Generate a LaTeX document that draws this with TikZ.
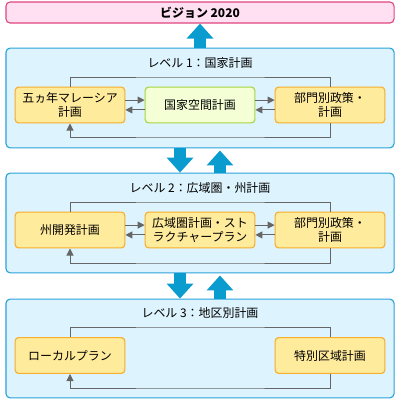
\documentclass[tikz,border=0pt]{standalone}
\usepackage{fontspec}
\usepackage{xcolor}
\usetikzlibrary{positioning,arrows.meta}
\setmainfont{Noto Sans CJK JP}
\definecolor{VisionPink}{HTML}{FFE0F2}
\definecolor{VisionEdge}{HTML}{E0457E}
\definecolor{LevelBlue}{HTML}{DDF3FD}
\definecolor{LevelEdge}{HTML}{2AA3D9}
\definecolor{PlanYellow}{HTML}{FFEB9C}
\definecolor{PlanEdge}{HTML}{F7AE2E}
\definecolor{SpaceGreen}{HTML}{F5FFD6}
\definecolor{SpaceEdge}{HTML}{A6D63E}
\definecolor{BigArrow}{HTML}{0A9BCF}
\definecolor{LinkGrey}{HTML}{666666}

\tikzset{
  levelbox/.style={rounded corners=3pt, fill=LevelBlue, draw=LevelEdge,
    line width=0.8pt, minimum width=276pt, inner sep=0pt},
  planbox/.style={rounded corners=2.5pt, fill=PlanYellow, draw=PlanEdge,
    line width=0.8pt, minimum width=78pt, minimum height=25.5pt,
    inner sep=1pt, align=center, font=\fontsize{8.5}{10}\selectfont},
  leveltitle/.style={font=\fontsize{8.5}{10}\selectfont},
  link/.style={draw=LinkGrey, line width=0.7pt},
  linkarrow/.style={link, -{Triangle[width=5pt,length=5pt]}},
  bigarrow/.style={draw=BigArrow, line width=8.5pt,
    -{Triangle[width=18.4pt,length=10.6pt]}}
}

\begin{document}
\begin{tikzpicture}[x=0.025cm, y=-0.025cm]
  \useasboundingbox (0,0) rectangle (400,400);

  % vision
  \node[
    rounded corners=3pt,
    fill=VisionPink,
    draw=VisionEdge,
    line width=0.8pt,
    minimum width=276pt,
    minimum height=15pt,
    inner sep=0pt,
    font=\fontsize{8.5}{10}\selectfont\bfseries
  ] (vision) at (200,12.5) {ビジョン 2020};

  % level 1
  \node[levelbox, minimum height=70.9pt] (lvA) at (200,98) {};
  \node[leveltitle] (lvAtitle) at (200,63) {レベル 1：国家計画};
  \node[planbox] (fiveyear) at (70,105) {五ヵ年マレーシア\\計画};
  \node[planbox, fill=SpaceGreen, draw=SpaceEdge] (spatial) at (200,105) {国家空間計画};
  \node[planbox] (sectorA) at (330,105) {部門別政策・\\計画};

  % level 2
  \node[levelbox, minimum height=70.9pt] (lvB) at (200,223) {};
  \node[leveltitle] (lvBtitle) at (200,188) {レベル 2：広域圏・州計画};
  \node[planbox] (statedev) at (70,230) {州開発計画};
  \node[planbox] (regional) at (200,230) {広域圏計画・スト\\ラクチャープラン};
  \node[planbox] (sectorB) at (330,230) {部門別政策・\\計画};

  % level 3
  \node[levelbox, minimum height=70.2pt] (lvC) at (200,348.5) {};
  \node[leveltitle] (lvCtitle) at (200,313) {レベル 3：地区別計画};
  \node[planbox] (localplan) at (70,355.5) {ローカルプラン};
  \node[planbox] (special) at (330,355.5) {特別区域計画};

  % links inside the levels
  \foreach \l/\m/\r in {fiveyear/spatial/sectorA, statedev/regional/sectorB}{
    \draw[linkarrow] ([yshift=3.5pt]\l.east) -- ([yshift=3.5pt]\m.west);
    \draw[linkarrow] ([yshift=3.5pt]\m.east) -- ([yshift=3.5pt]\r.west);
    \draw[linkarrow] ([yshift=-3.5pt]\r.west) -- ([yshift=-3.5pt]\m.east);
    \draw[linkarrow] ([yshift=-3.5pt]\m.west) -- ([yshift=-3.5pt]\l.east);
  }
  \draw[link] (fiveyear.north) |- (200,77) -| (sectorA.north);
  \draw[linkarrow] (sectorA.south) |- (200,137) -| (fiveyear.south);
  \draw[link] (statedev.north) |- (200,202) -| (sectorB.north);
  \draw[linkarrow] (sectorB.south) |- (200,263) -| (statedev.south);
  \draw[link] (localplan.north) |- (200,327) -| (special.north);
  \draw[linkarrow] (special.south) |- (200,388) -| (localplan.south);

  % big arrows between the levels
  \draw[bigarrow] (lvA.north) -- (vision.south);
  \draw[bigarrow] ([xshift=-14.2pt]lvA.south) -- ([xshift=-14.2pt]lvB.north);
  \draw[bigarrow] ([xshift=14.2pt]lvB.north) -- ([xshift=14.2pt,yshift=-1.5pt]lvA.south);
  \draw[bigarrow] ([xshift=-14.2pt]lvB.south) -- ([xshift=-14.2pt]lvC.north);
  \draw[bigarrow] ([xshift=14.2pt]lvC.north) -- ([xshift=14.2pt,yshift=-1.5pt]lvB.south);
\end{tikzpicture}
\end{document}
